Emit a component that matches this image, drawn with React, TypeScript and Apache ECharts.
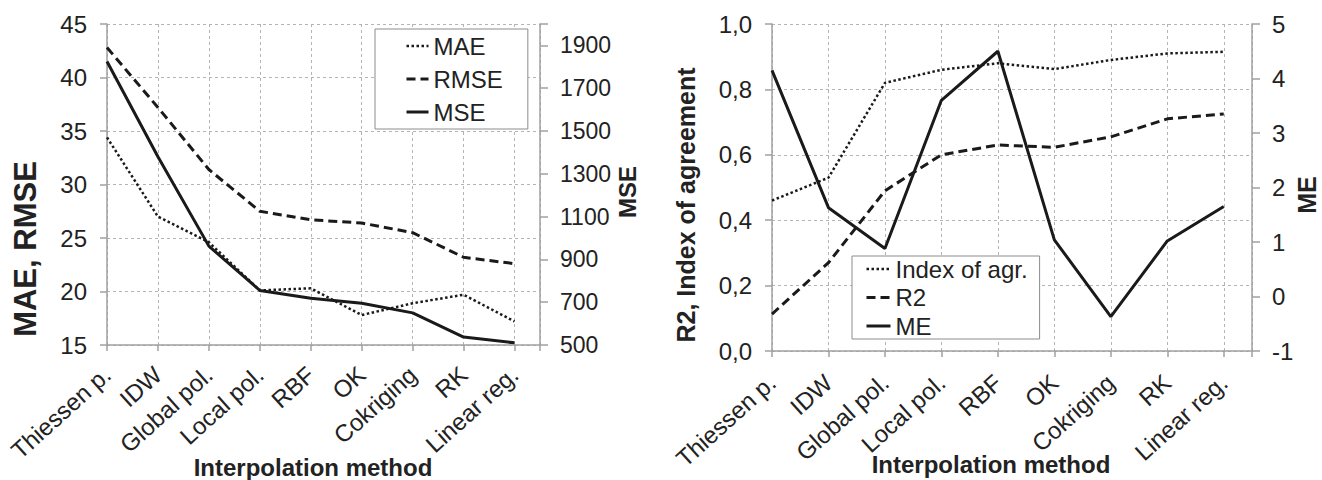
import React, { useEffect, useRef } from "react";
import * as echarts from "echarts";

const categories = ["Thiessen p.", "IDW", "Global pol.", "Local pol.", "RBF", "OK", "Cokriging", "RK", "Linear reg."];
const maeValues = [34.4, 27.0, 24.6, 20.1, 20.3, 17.8, 18.9, 19.7, 17.2];
const rmseValues = [42.8, 37.2, 31.4, 27.5, 26.7, 26.4, 25.5, 23.2, 22.6];
const mseValues = [1825, 1380, 962, 755, 718, 695, 650, 537, 510];
const indexAgrValues = [0.46, 0.53, 0.82, 0.86, 0.88, 0.862, 0.89, 0.91, 0.915];
const r2Values = [0.113, 0.27, 0.49, 0.60, 0.63, 0.623, 0.655, 0.71, 0.725];
const meValues = [4.15, 1.63, 0.88, 3.6, 4.5, 1.04, -0.37, 1.02, 1.65];

const FONT = "Liberation Sans, Arial, Helvetica, sans-serif";
const TEXT = "#222";
const LINE = "#1a1a1a";
const GRID = "#b4b4b4";
const AXIS = "#a0a0a0";

const dotted = [2.5, 2.5];
const dashed = [9, 5];

function toPairs(values: number[]) {
  return values.map((v, i) => [i, v]);
}

function xAxisFor(gridIndex: number, fontSize: number, margin: number) {
  return {
    type: "value",
    gridIndex,
    min: 0,
    max: 8.5,
    interval: 1,
    axisLine: { show: true, onZero: false, lineStyle: { color: AXIS, width: 1.5 } },
    axisTick: { show: true, length: 6, lineStyle: { color: AXIS, width: 1.5 } },
    axisLabel: {
      rotate: 42,
      margin,
      color: TEXT,
      fontFamily: FONT,
      fontSize,
      formatter: (v: number) => (Number.isInteger(v) && categories[v] !== undefined ? categories[v] : ""),
    },
    splitLine: { show: true, lineStyle: { color: GRID, type: [3, 3], width: 1 } },
  };
}

function legendItem(name: string, type: any, width: number) {
  return { name, lineStyle: { type, width, color: LINE }, itemStyle: { opacity: 0 } };
}

export default function App() {
  const ref = useRef<HTMLDivElement>(null);
  useEffect(() => {
    if (!ref.current) return;
    const chart = echarts.init(ref.current, undefined, { renderer: "svg" });
    const axisLabelBase = { color: TEXT, fontFamily: FONT, fontSize: 24, margin: 20 };
    const option: any = {
      animation: false,
      backgroundColor: "#fff",
      grid: [
        { left: 107, top: 24, width: 433, height: 321 },
        { left: 772, top: 24, width: 480, height: 327 },
      ],
      xAxis: [xAxisFor(0, 24, 26), xAxisFor(1, 24, 28)],
      yAxis: [
        {
          type: "value",
          gridIndex: 0,
          min: 15,
          max: 45,
          interval: 5,
          axisLine: { show: true, lineStyle: { color: AXIS, width: 1.5 } },
          axisTick: { show: true, length: 7, lineStyle: { color: AXIS, width: 1.5 } },
          axisLabel: axisLabelBase,
          splitLine: { show: true, lineStyle: { color: GRID, type: [3, 3], width: 1 } },
        },
        {
          type: "value",
          gridIndex: 0,
          position: "right",
          min: 500,
          max: 2000,
          interval: 200,
          axisLine: { show: true, lineStyle: { color: AXIS, width: 1.5 } },
          axisTick: { show: true, length: 8, lineStyle: { color: AXIS, width: 1.5 } },
          axisLabel: { ...axisLabelBase, fontSize: 23, formatter: (v: number) => (v > 1900 ? "" : String(v)) },
          splitLine: { show: false },
        },
        {
          type: "value",
          gridIndex: 1,
          min: 0,
          max: 1,
          interval: 0.2,
          axisLine: { show: true, lineStyle: { color: AXIS, width: 1.5 } },
          axisTick: { show: true, length: 7, lineStyle: { color: AXIS, width: 1.5 } },
          axisLabel: { ...axisLabelBase, formatter: (v: number) => v.toFixed(1).replace(".", ",") },
          splitLine: { show: true, lineStyle: { color: GRID, type: [3, 3], width: 1 } },
        },
        {
          type: "value",
          gridIndex: 1,
          position: "right",
          min: -1,
          max: 5,
          interval: 1,
          axisLine: { show: true, lineStyle: { color: AXIS, width: 1.5 } },
          axisTick: { show: true, length: 8, lineStyle: { color: AXIS, width: 1.5 } },
          axisLabel: axisLabelBase,
          splitLine: { show: false },
        },
      ],
      legend: [
        {
          orient: "vertical",
          left: 375,
          top: 29,
          padding: [5, 25, 5, 30],
          itemGap: 9,
          itemWidth: 22,
          itemHeight: 14,
          borderColor: "#8c8c8c",
          borderWidth: 1,
          backgroundColor: "#fff",
          textStyle: { color: TEXT, fontFamily: FONT, fontSize: 24 },
          data: [
            legendItem("MAE", dotted, 2.5),
            legendItem("RMSE", dashed, 3),
            legendItem("MSE", "solid", 3),
          ],
        },
        {
          orient: "vertical",
          left: 852,
          top: 256,
          padding: [1, 12, 1, 13],
          itemGap: 4.5,
          itemWidth: 24,
          itemHeight: 14,
          borderColor: "#8c8c8c",
          borderWidth: 1,
          backgroundColor: "#fff",
          textStyle: { color: TEXT, fontFamily: FONT, fontSize: 24 },
          data: [
            legendItem("Index of agr.", dotted, 2.5),
            legendItem("R2", dashed, 3),
            legendItem("ME", "solid", 3),
          ],
        },
      ],
      series: [
        {
          name: "MAE", type: "line", xAxisIndex: 0, yAxisIndex: 0, symbol: "none",
          data: toPairs(maeValues), lineStyle: { color: LINE, width: 2.5, type: dotted },
          itemStyle: { color: LINE }, z: 3,
        },
        {
          name: "RMSE", type: "line", xAxisIndex: 0, yAxisIndex: 0, symbol: "none",
          data: toPairs(rmseValues), lineStyle: { color: LINE, width: 3, type: dashed },
          itemStyle: { color: LINE }, z: 3,
        },
        {
          name: "MSE", type: "line", xAxisIndex: 0, yAxisIndex: 1, symbol: "none",
          data: toPairs(mseValues), lineStyle: { color: LINE, width: 3, type: "solid" },
          itemStyle: { color: LINE }, z: 3,
        },
        {
          name: "Index of agr.", type: "line", xAxisIndex: 1, yAxisIndex: 2, symbol: "none",
          data: toPairs(indexAgrValues), lineStyle: { color: LINE, width: 2.5, type: dotted },
          itemStyle: { color: LINE }, z: 3,
        },
        {
          name: "R2", type: "line", xAxisIndex: 1, yAxisIndex: 2, symbol: "none",
          data: toPairs(r2Values), lineStyle: { color: LINE, width: 3, type: dashed },
          itemStyle: { color: LINE }, z: 3,
        },
        {
          name: "ME", type: "line", xAxisIndex: 1, yAxisIndex: 3, symbol: "none",
          data: toPairs(meValues), lineStyle: { color: LINE, width: 3, type: "solid" },
          itemStyle: { color: LINE }, z: 3,
        },
      ],
      graphic: [
        {
          type: "text", x: 313, y: 467,
          style: { text: "Interpolation method", fill: TEXT, font: `bold 24px ${FONT}`, align: "center", verticalAlign: "middle" },
        },
        {
          type: "text", x: 991, y: 464,
          style: { text: "Interpolation method", fill: TEXT, font: `bold 24px ${FONT}`, align: "center", verticalAlign: "middle" },
        },
        {
          type: "text", x: 25, y: 249, rotation: Math.PI / 2,
          style: { text: "MAE, RMSE", fill: TEXT, font: `bold 31px ${FONT}`, align: "center", verticalAlign: "middle" },
        },
        {
          type: "text", x: 627, y: 192, rotation: Math.PI / 2,
          style: { text: "MSE", fill: TEXT, font: `bold 24px ${FONT}`, align: "center", verticalAlign: "middle" },
        },
        {
          type: "text", x: 686, y: 205, rotation: Math.PI / 2,
          style: { text: "R2, Index of agreement", fill: TEXT, font: `bold 25px ${FONT}`, align: "center", verticalAlign: "middle" },
        },
        {
          type: "text", x: 1307, y: 195, rotation: Math.PI / 2,
          style: { text: "ME", fill: TEXT, font: `bold 25px ${FONT}`, align: "center", verticalAlign: "middle" },
        },
      ],
    };
    chart.setOption(option);
    return () => chart.dispose();
  }, []);
  return (
    <div
      ref={ref}
      style={{ position: "absolute", left: 0, top: 0, width: 1322, height: 480, background: "#fff" }}
    />
  );
}
